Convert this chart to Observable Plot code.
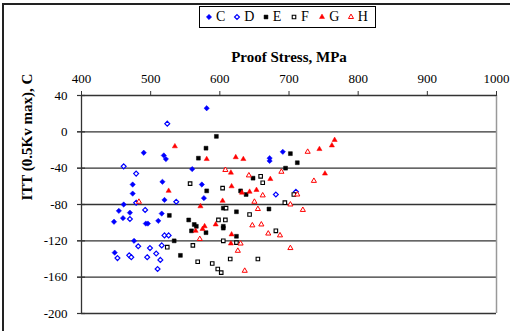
<!DOCTYPE html>
<html>
<head>
<meta charset="utf-8">
<script src="https://cdn.jsdelivr.net/npm/d3@7"></script>
<script src="https://cdn.jsdelivr.net/npm/@observablehq/plot@0.6"></script>
<style>
  html, body { margin: 0; padding: 0; background: #fff; }
  #wrap { position: relative; width: 510px; height: 331px; overflow: hidden; font-family: "Liberation Serif", "Times New Roman", serif; }
  #frame { position: absolute; left: 2px; top: 3px; width: 540px; height: 360px; border-left: 2px solid #222; border-top: 2px solid #222; box-sizing: border-box; pointer-events: none; }
  #chart { position: absolute; left: 0; top: 0; }
  #chart svg text { font-family: "Liberation Serif", "Times New Roman", serif; }
  #legend { position: absolute; left: 199px; top: 6px; width: 177px; height: 22px; border: 1px solid #000; box-sizing: border-box; background: #fff; display: flex; align-items: center; padding-left: 5px; }
  .item { display: flex; align-items: center; width: 28.6px; font-size: 14px; color: #000; }
  .item svg { margin-right: 3px; }
</style>
</head>
<body>
<div id="wrap">
  <div id="chart"></div>
  <div id="frame"></div>
  <div id="legend"></div>
</div>
<script>
// ---- Data (Proof Stress MPa, ITT C) ----
const seriesNames = ["C", "D", "E", "F", "G", "H"];

const dataC = [[581,26],[490,-23],[519,-26],[522,-30],[560,-41],[474,-58],[517,-55],[574,-58],[474,-68],[577,-73],[520,-75],[461,-80],[454,-87],[470,-89],[516,-90],[447,-99],[460,-95],[493,-101],[496,-101],[511,-98],[476,-120],[448,-133],[691,-22],[672,-29],[672,-32]];
const dataD = [[524,9],[461,-38],[479,-46],[537,-77],[479,-78],[492,-86],[470,-96],[520,-114],[526,-114],[482,-126],[516,-125],[499,-128],[452,-139],[469,-136],[472,-138],[495,-138],[508,-134],[514,-141],[510,-151],[681,-69],[710,-66]];
const dataE = [[595,-5],[580,-18],[569,-29],[581,-65],[527,-92],[555,-97],[563,-102],[566,-104],[559,-109],[580,-111],[534,-120],[543,-136],[702,-24],[712,-34],[695,-40],[648,-51],[630,-65],[638,-69],[605,-84],[624,-88],[671,-85],[605,-104],[605,-106],[624,-115]];
const dataF = [[557,-57],[524,-127],[561,-125],[568,-143],[589,-145],[659,-49],[662,-56],[604,-62],[707,-69],[694,-78],[609,-84],[643,-91],[598,-97],[608,-97],[681,-109],[605,-120],[624,-122],[615,-140],[655,-140],[597,-151],[602,-155]];
const dataG = [[535,-16],[581,-30],[526,-65],[572,-82],[594,-102],[575,-107],[578,-104],[565,-109],[766,-9],[762,-15],[744,-19],[623,-28],[634,-30],[616,-45],[752,-46],[673,-52],[617,-60],[632,-67],[643,-66],[653,-64],[604,-76],[617,-113],[616,-123]];
const dataH = [[483,-77],[571,-118],[727,-22],[608,-42],[689,-44],[642,-48],[736,-54],[662,-70],[712,-69],[650,-77],[702,-80],[655,-85],[720,-86],[647,-103],[660,-102],[670,-112],[687,-114],[630,-123],[626,-131],[702,-128],[636,-153]];

const xTicks = [400, 500, 600, 700, 800, 900, 1000];
const yTicks = [40, 0, -40, -80, -120, -160, -200];
const xTitle = "Proof Stress, MPa";
const yTitle = "ITT (0.5Kv max), C";

// ---- Styles per series ----
const styles = {
  C: { data: dataC, symbol: d3.symbolDiamond2, fill: "#0000ff", stroke: "#0000ff", r: 2.4, sw: 0.5 },
  D: { data: dataD, symbol: d3.symbolDiamond2, fill: "#ffffff", stroke: "#0000ff", r: 2.2, sw: 1.2 },
  E: { data: dataE, symbol: d3.symbolSquare, fill: "#000000", stroke: "#000000", r: 2.2, sw: 0.5 },
  F: { data: dataF, symbol: d3.symbolSquare, fill: "#ffffff", stroke: "#000000", r: 2.0, sw: 1.1 },
  G: { data: dataG, symbol: d3.symbolTriangle, fill: "#ff0000", stroke: "#ff0000", r: 1.9, sw: 0.5 },
  H: { data: dataH, symbol: d3.symbolTriangle, fill: "#ffffff", stroke: "#ff0000", r: 1.9, sw: 1.0 }
};

const dotMarks = seriesNames.map(name => {
  const s = styles[name];
  return Plot.dot(s.data, {
    x: d => d[0], y: d => d[1],
    symbol: s.symbol, r: s.r,
    fill: s.fill, stroke: s.stroke, strokeWidth: s.sw
  });
});

const plot = Plot.plot({
  width: 510,
  height: 331,
  marginLeft: 81,
  marginRight: 14,
  marginTop: 95,
  marginBottom: 18,
  x: { domain: [400, 1000] },
  y: { domain: [-200, 40] },
  style: { fontFamily: "'Liberation Serif', 'Times New Roman', serif", fontSize: "12.5px", background: "transparent", overflow: "visible", color: "#000" },
  marks: [
    Plot.ruleY(yTicks.filter(d => d !== 40), { stroke: "#333", strokeWidth: 1.3 }),
    Plot.ruleX([1000], { stroke: "#999", strokeWidth: 1.5 }),
    Plot.ruleY([40], { stroke: "#333", strokeWidth: 1.5 }),
    Plot.ruleX([400], { stroke: "#333", strokeWidth: 1.3 }),
    Plot.ruleY(yTicks, { x1: 400, x2: 400, insetLeft: -4, insetRight: -4, stroke: "#333", strokeWidth: 1.2 }),
    Plot.axisX(xTicks, { anchor: "top", tickSize: 5, tickPadding: 8, label: null, tickFormat: d => String(d), stroke: "#333", fontSize: 13 }),
    Plot.axisY(yTicks, { anchor: "left", tickSize: 4, tickPadding: 10, label: null, tickFormat: d => String(d), stroke: "#333", fontSize: 13 }),
    ...dotMarks,
    Plot.text([xTitle], { text: d => d, frameAnchor: "top", dy: -44, fontWeight: "bold", fontSize: 15, fill: "#000" }),
    Plot.text([yTitle], { text: d => d, frameAnchor: "left", dx: -54, dy: -4, rotate: -90, fontWeight: "bold", fontSize: 15, fill: "#000" })
  ]
});
document.getElementById("chart").appendChild(plot);

// ---- Legend ----
const legend = document.getElementById("legend");
seriesNames.forEach(name => {
  const s = styles[name];
  const item = document.createElement("div");
  item.className = "item";
  const size = Math.PI * s.r * s.r;
  const path = d3.symbol(s.symbol, size)();
  item.innerHTML = `<svg width="8" height="8" viewBox="-4 -4 8 8"><path d="${path}" fill="${s.fill}" stroke="${s.stroke}" stroke-width="${s.sw}"/></svg><span>${name}</span>`;
  legend.appendChild(item);
});
</script>
</body>
</html>
